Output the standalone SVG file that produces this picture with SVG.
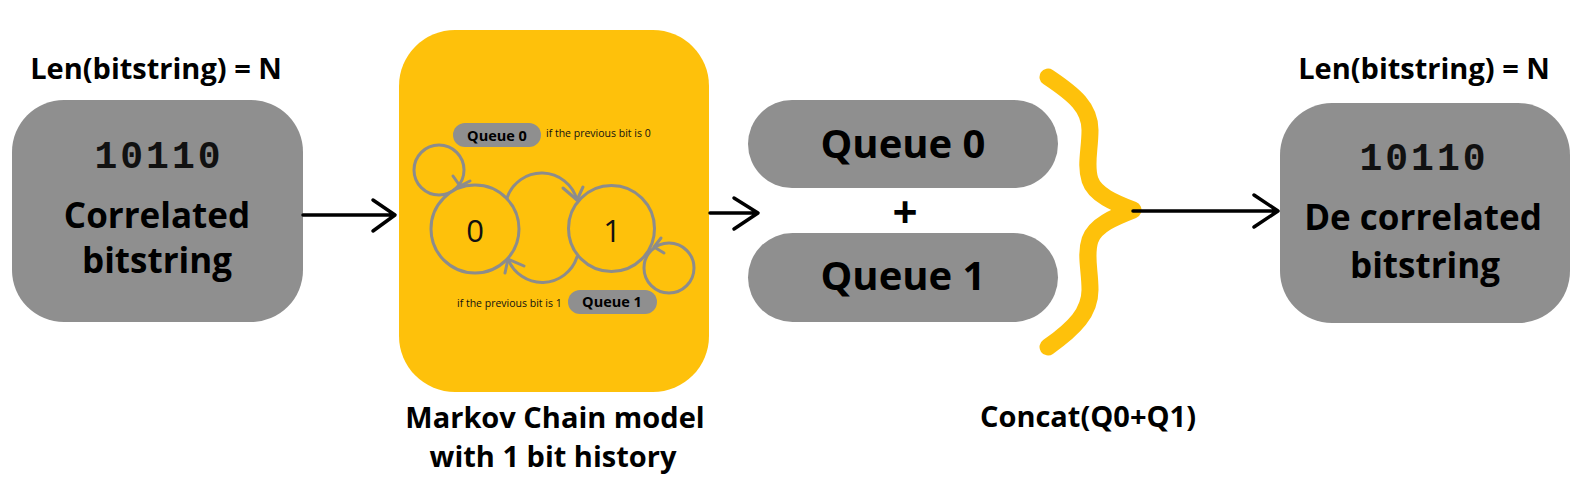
<svg xmlns="http://www.w3.org/2000/svg" width="1590" height="493" viewBox="0 0 1590 493">
<style>
.grey{fill:#8f8f8f}
.bold{font-family:"Open Sans","Liberation Sans",sans-serif;font-weight:700;fill:#000;text-anchor:middle}
.mono{font-family:"Liberation Mono","DejaVu Sans Mono",monospace;font-weight:700;font-size:38px;letter-spacing:3px;fill:#111;text-anchor:middle}
.reg{font-family:"Open Sans","Liberation Sans",sans-serif;font-weight:400;fill:#111}
.conn{stroke:#000;stroke-width:3.5;fill:none;stroke-linecap:round;stroke-linejoin:round}
.st{stroke:#8c8c8c;stroke-width:3;fill:none;stroke-linecap:round;stroke-linejoin:round}
</style>
<rect width="1590" height="493" fill="#fff"/>

<g id="input">
  <text class="bold" x="156" y="79" font-size="29">Len(bitstring) = N</text>
  <rect class="grey" x="12" y="100" width="291" height="222" rx="52"/>
  <text class="mono" x="159" y="168">10110</text>
  <text class="bold" x="157" y="228" font-size="35">Correlated</text>
  <text class="bold" x="157" y="273" font-size="35">bitstring</text>
</g>

<g id="markov">
  <rect x="399" y="30" width="310" height="362" rx="56" fill="#fec10b"/>
  <rect class="grey" x="453" y="123" width="88" height="24" rx="12"/>
  <text class="bold" x="497" y="141" font-size="14.5" font-weight="600">Queue 0</text>
  <text class="reg" x="546" y="137" font-size="10.5">if the previous bit is 0</text>
  <circle class="st" cx="439" cy="170" r="25"/>
  <circle cx="475" cy="229" r="44" fill="#fec10b" stroke="#8c8c8c" stroke-width="3"/>
  <circle cx="611.5" cy="228.5" r="43" fill="#fec10b" stroke="#8c8c8c" stroke-width="3"/>
  <circle class="st" cx="669" cy="268" r="25"/>
  <path class="st" d="M453,176 L460,186 L470,181"/>
  <path class="st" d="M661,238 L654,247 L664,253"/>
  <path class="st" stroke-width="3.5" d="M507,198 A36.6,36.6 0 0 1 577,200"/>
  <path class="st" d="M563,188 L577,200 L583,187"/>
  <path class="st" stroke-width="3.5" d="M577,257 A36.6,36.6 0 0 1 508,259"/>
  <path class="st" d="M505,273 L508,259 L524,266"/>
  <text class="reg" x="475" y="242" font-size="31" text-anchor="middle">0</text>
  <text class="reg" x="612" y="242" font-size="31" text-anchor="middle">1</text>
  <text class="reg" x="457" y="307" font-size="10.5">if the previous bit is 1</text>
  <rect class="grey" x="568" y="290" width="89" height="24" rx="12"/>
  <text class="bold" x="612" y="307" font-size="14.5" font-weight="600">Queue 1</text>
  <text class="bold" x="555" y="428" font-size="29">Markov Chain model</text>
  <text class="bold" x="553" y="467" font-size="29">with 1 bit history</text>
</g>

<g id="queues">
  <rect class="grey" x="748" y="100" width="310" height="88" rx="44"/>
  <text class="bold" x="903" y="158" font-size="40">Queue 0</text>
  <text class="bold" x="905" y="228" font-size="44" font-weight="600">+</text>
  <rect class="grey" x="748" y="233" width="310" height="89" rx="44.5"/>
  <text class="bold" x="903" y="290" font-size="40">Queue 1</text>
</g>

<g id="concat">
  <path d="M1048,77 C1075,95 1090,108 1090,130 C1090,150 1085,165 1090,180 C1095,195 1115,203 1133,210 C1115,217 1095,225 1090,240 C1085,255 1090,270 1090,290 C1090,312 1075,328 1048,347" fill="none" stroke="#fec10b" stroke-width="17" stroke-linecap="round" stroke-linejoin="round"/>
  <text class="bold" x="1088" y="427" font-size="29">Concat(Q0+Q1)</text>
</g>

<g id="output">
  <text class="bold" x="1424" y="79" font-size="29">Len(bitstring) = N</text>
  <rect class="grey" x="1280" y="103" width="290" height="220" rx="52"/>
  <text class="mono" x="1424" y="170">10110</text>
  <text class="bold" x="1423" y="230" font-size="35">De correlated</text>
  <text class="bold" x="1425" y="278" font-size="35">bitstring</text>
</g>

<g id="connectors">
  <path class="conn" d="M303,215 L394,215 M373,200 L395,215 L373,231"/>
  <path class="conn" d="M710,213 L757,213 M734,198 L758,213 L734,229"/>
  <path class="conn" d="M1133,211 L1277,211 M1254,195 L1278,211 L1254,227"/>
</g>
</svg>
